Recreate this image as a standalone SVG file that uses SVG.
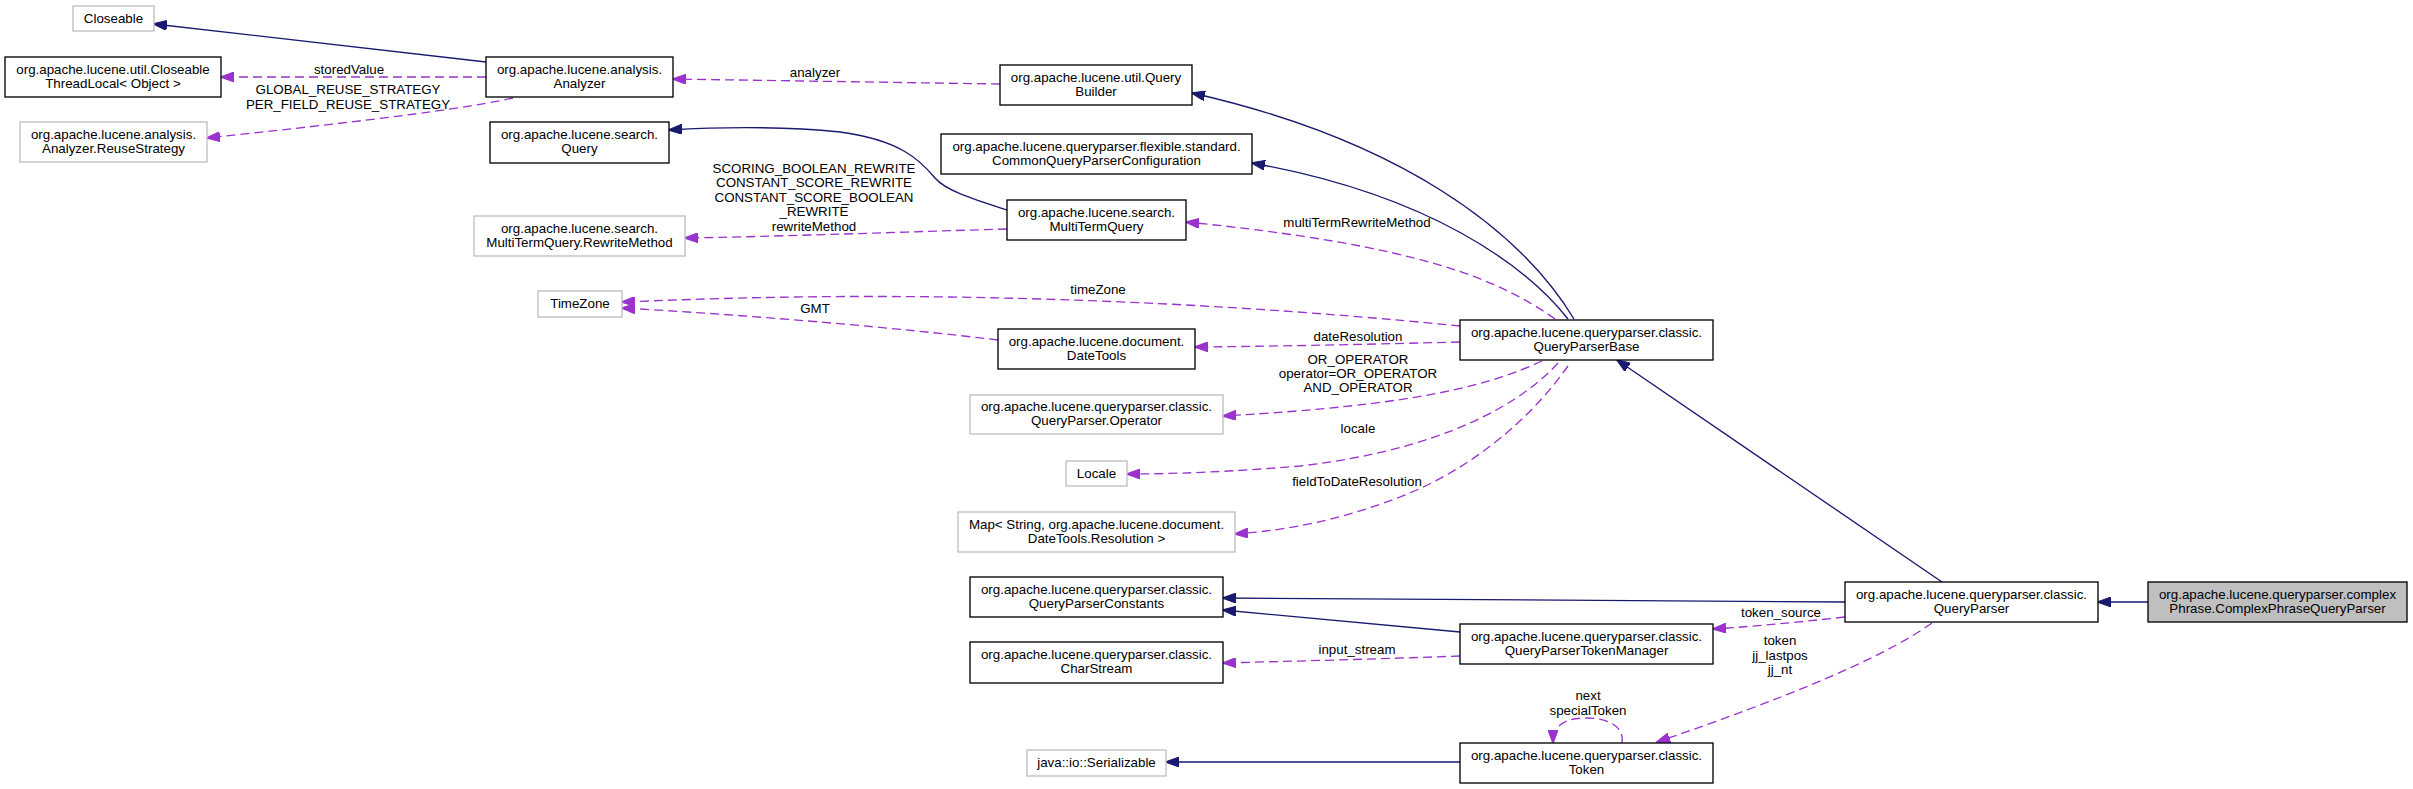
<svg xmlns="http://www.w3.org/2000/svg" width="2413" height="789" viewBox="0 0 2413 789">
<style>
text{font-family:"Liberation Sans",Arial,sans-serif;font-size:13.33px;fill:#000;text-anchor:middle}
.nb{fill:#fff;stroke:#000;stroke-width:1.33}
.ng{fill:#fff;stroke:#bfbfbf;stroke-width:1.33}
.nm{fill:#bfbfbf;stroke:#000;stroke-width:1.33}
.inh{fill:none;stroke:#191970;stroke-width:1.33;marker-end:url(#ah)}
.use{fill:none;stroke:#9a32cd;stroke-width:1.33;stroke-dasharray:9,5;marker-end:url(#au)}
</style>
<defs>
<marker id="ah" viewBox="0 0 14 10" refX="13" refY="5" markerWidth="14" markerHeight="10" orient="auto" markerUnits="userSpaceOnUse"><path d="M0,0L14,5L0,10z" fill="#191970" stroke="#191970"/></marker>
<marker id="au" viewBox="0 0 14 10" refX="13" refY="5" markerWidth="14" markerHeight="10" orient="auto" markerUnits="userSpaceOnUse"><path d="M0,0L14,5L0,10z" fill="#9a32cd" stroke="#9a32cd"/></marker>
</defs>
<rect width="2413" height="789" fill="#fff"/>
<g id="edges">
<path class="inh" d="M486,62L154,24"/>
<path class="inh" d="M1007,210C970,198 945,190 935,178C920,160 900,140 840,132C780,126 720,127 669,130"/>
<path class="inh" d="M1574,319C1520,230 1400,140 1192,93"/>
<path class="inh" d="M1568,319C1525,265 1430,195 1252,163"/>
<path class="inh" d="M1942,582L1617,360"/>
<path class="inh" d="M2148,602L2098,602"/>
<path class="inh" d="M1845,602C1600,600 1400,599 1223,598"/>
<path class="inh" d="M1460,632L1223,610"/>
<path class="inh" d="M1460,762L1166,762"/>
<path class="use" d="M486,77L221,77"/>
<text x="349" y="73.5">storedValue</text>
<path class="use" d="M513,98C450,112 300,128 207,138"/>
<text x="348" y="93.5">GLOBAL_REUSE_STRATEGY</text>
<text x="348" y="108.5">PER_FIELD_REUSE_STRATEGY</text>
<path class="use" d="M1000,84L673,79"/>
<text x="815" y="76.5">analyzer</text>
<path class="use" d="M1007,229C900,232 800,236 685,238"/>
<text x="814" y="172.5">SCORING_BOOLEAN_REWRITE</text>
<text x="814" y="187">CONSTANT_SCORE_REWRITE</text>
<text x="814" y="201.5">CONSTANT_SCORE_BOOLEAN</text>
<text x="814" y="216">_REWRITE</text>
<text x="814" y="230.5">rewriteMethod</text>
<path class="use" d="M1555,319C1500,280 1420,245 1186,222"/>
<text x="1357" y="227">multiTermRewriteMethod</text>
<path class="use" d="M1460,326C1320,312 1150,300 950,297C800,295 700,299 622,302"/>
<text x="1098" y="293.5">timeZone</text>
<path class="use" d="M998,340C900,328 750,315 622,308"/>
<text x="815" y="312.5">GMT</text>
<path class="use" d="M1460,342C1380,344 1300,346 1195,347"/>
<text x="1358" y="340.5">dateResolution</text>
<path class="use" d="M1542,361C1490,385 1420,405 1223,416"/>
<text x="1358" y="363.5">OR_OPERATOR</text>
<text x="1358" y="377.5">operator=OR_OPERATOR</text>
<text x="1358" y="391.5">AND_OPERATOR</text>
<path class="use" d="M1558,363C1520,405 1440,450 1300,466C1230,472 1170,474 1127,474"/>
<text x="1358" y="432.5">locale</text>
<path class="use" d="M1568,366C1530,420 1470,470 1400,497C1340,520 1290,530 1235,534"/>
<text x="1357" y="485.5">fieldToDateResolution</text>
<path class="use" d="M1845,617C1800,622 1760,626 1713,629"/>
<text x="1781" y="616.5">token_source</text>
<path class="use" d="M1460,656C1380,659 1300,661 1223,663"/>
<text x="1357" y="653.5">input_stream</text>
<path class="use" d="M1932,623C1880,660 1780,700 1657,742"/>
<text x="1780" y="644.5">token</text>
<text x="1780" y="659.5">jj_lastpos</text>
<text x="1780" y="673.5">jj_nt</text>
<path class="use" d="M1622,743C1625,725 1605,718 1587,718C1565,718 1553,725 1553,743"/>
<text x="1588" y="699.5">next</text>
<text x="1588" y="714.5">specialToken</text>
</g>
<g id="n_closeable"><rect class="ng" x="73" y="6" width="81" height="25"/><text x="113.5" y="23">Closeable</text></g>
<g id="n_ctl"><rect class="nb" x="5" y="57" width="216" height="40"/><text x="113" y="74">org.apache.lucene.util.Closeable</text><text x="113" y="88">ThreadLocal&lt; Object &gt;</text></g>
<g id="n_reuse"><rect class="ng" x="20" y="122" width="187" height="40"/><text x="113.5" y="139">org.apache.lucene.analysis.</text><text x="113.5" y="153">Analyzer.ReuseStrategy</text></g>
<g id="n_analyzer"><rect class="nb" x="486" y="57" width="187" height="40"/><text x="579.5" y="74">org.apache.lucene.analysis.</text><text x="579.5" y="88">Analyzer</text></g>
<g id="n_query"><rect class="nb" x="490" y="122" width="179" height="41"/><text x="579.5" y="139">org.apache.lucene.search.</text><text x="579.5" y="153">Query</text></g>
<g id="n_rewrite"><rect class="ng" x="474" y="216" width="211" height="40"/><text x="579.5" y="233">org.apache.lucene.search.</text><text x="579.5" y="247">MultiTermQuery.RewriteMethod</text></g>
<g id="n_timezone"><rect class="ng" x="538" y="291" width="84" height="26"/><text x="580" y="308">TimeZone</text></g>
<g id="n_qbuilder"><rect class="nb" x="1000" y="65" width="192" height="40"/><text x="1096" y="82">org.apache.lucene.util.Query</text><text x="1096" y="96">Builder</text></g>
<g id="n_cqpc"><rect class="nb" x="941" y="134" width="311" height="40"/><text x="1096.5" y="151">org.apache.lucene.queryparser.flexible.standard.</text><text x="1096.5" y="165">CommonQueryParserConfiguration</text></g>
<g id="n_mtq"><rect class="nb" x="1007" y="200" width="179" height="40"/><text x="1096.5" y="217">org.apache.lucene.search.</text><text x="1096.5" y="231">MultiTermQuery</text></g>
<g id="n_datetools"><rect class="nb" x="998" y="329" width="197" height="40"/><text x="1096.5" y="346">org.apache.lucene.document.</text><text x="1096.5" y="360">DateTools</text></g>
<g id="n_operator"><rect class="ng" x="970" y="395" width="253" height="39"/><text x="1096.5" y="411">org.apache.lucene.queryparser.classic.</text><text x="1096.5" y="425">QueryParser.Operator</text></g>
<g id="n_locale"><rect class="ng" x="1066" y="461" width="61" height="25"/><text x="1096.5" y="478">Locale</text></g>
<g id="n_map"><rect class="ng" x="958" y="512" width="277" height="40"/><text x="1096.5" y="529">Map&lt; String, org.apache.lucene.document.</text><text x="1096.5" y="543">DateTools.Resolution &gt;</text></g>
<g id="n_qpconst"><rect class="nb" x="970" y="577" width="253" height="40"/><text x="1096.5" y="594">org.apache.lucene.queryparser.classic.</text><text x="1096.5" y="608">QueryParserConstants</text></g>
<g id="n_charstream"><rect class="nb" x="970" y="642" width="253" height="41"/><text x="1096.5" y="659">org.apache.lucene.queryparser.classic.</text><text x="1096.5" y="673">CharStream</text></g>
<g id="n_serializable"><rect class="ng" x="1027" y="750" width="139" height="26"/><text x="1096.5" y="767">java::io::Serializable</text></g>
<g id="n_qpbase"><rect class="nb" x="1460" y="320" width="253" height="40"/><text x="1586.5" y="337">org.apache.lucene.queryparser.classic.</text><text x="1586.5" y="351">QueryParserBase</text></g>
<g id="n_tokmgr"><rect class="nb" x="1460" y="624" width="253" height="40"/><text x="1586.5" y="641">org.apache.lucene.queryparser.classic.</text><text x="1586.5" y="655">QueryParserTokenManager</text></g>
<g id="n_token"><rect class="nb" x="1460" y="743" width="253" height="40"/><text x="1586.5" y="760">org.apache.lucene.queryparser.classic.</text><text x="1586.5" y="774">Token</text></g>
<g id="n_qp"><rect class="nb" x="1845" y="582" width="253" height="40"/><text x="1971.5" y="599">org.apache.lucene.queryparser.classic.</text><text x="1971.5" y="613">QueryParser</text></g>
<g id="n_cpqp"><rect class="nm" x="2148" y="582" width="259" height="40"/><text x="2277.5" y="599">org.apache.lucene.queryparser.complex</text><text x="2277.5" y="613">Phrase.ComplexPhraseQueryParser</text></g>
</svg>
